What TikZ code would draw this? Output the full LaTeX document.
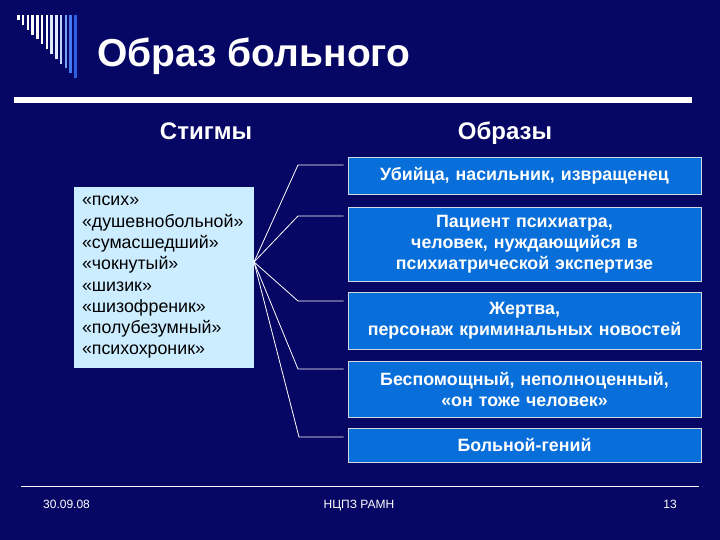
\documentclass[tikz,border=0pt]{standalone}
\usepackage{fontspec}
\setmainfont{Liberation Sans}
\definecolor{bgnavy}{RGB}{6,6,100}
\definecolor{boxblue}{RGB}{8,110,218}
\definecolor{lightbox}{RGB}{204,236,255}
\definecolor{boxedge}{RGB}{210,215,225}
\definecolor{stripeA}{RGB}{255,255,255}
\definecolor{stripeB}{RGB}{225,235,255}
\definecolor{stripeC}{RGB}{190,210,255}
\definecolor{stripeD}{RGB}{120,160,250}
\definecolor{stripeE}{RGB}{70,120,240}
\definecolor{stripeF}{RGB}{45,95,225}
\tikzset{
  imgbox/.style={draw=boxedge, line width=0.8pt, fill=boxblue, text=white,
    minimum width=353pt, text width=345pt, align=center, inner xsep=4pt,
    inner ysep=0pt, font=\fontsize{17.8}{21}\selectfont\bfseries},
  stigbox/.style={fill=lightbox, text=black, minimum width=180pt, minimum height=181pt,
    text width=164pt, align=left, inner xsep=8pt, inner ysep=0pt,
    font=\fontsize{17.8}{21.3}\selectfont},
  conn/.style={draw=white, line width=0.8pt},
  heading/.style={text=white, font=\fontsize{24}{28}\selectfont\bfseries, inner sep=0pt},
  foot/.style={text=white, font=\fontsize{12}{14}\selectfont, inner sep=0pt}
}
\begin{document}
\begin{tikzpicture}[x=1pt,y=-1pt]
\useasboundingbox (0,0) rectangle (720,540);
\fill[bgnavy] (0,0) rectangle (720,540);
% stripes decoration
\foreach \i/\c in {0/stripeA,1/stripeA,2/stripeA,3/stripeA,4/stripeA,5/stripeA,6/stripeA,7/stripeB,8/stripeB,9/stripeC,10/stripeD,11/stripeE,12/stripeF}{
  \fill[\c] ({17+\i*4.75},15) rectangle ({19.6+\i*4.75},{20+\i*4.85});
}
% title
\node[anchor=base west, text=white, inner sep=0pt, font=\fontsize{39}{44}\selectfont\bfseries] (title) at (97,67) {Образ больного};
\fill[white] (14,97) rectangle (692,103);
% headings
\node[heading, anchor=base] (h1) at (206,140) {Стигмы};
\node[heading, anchor=base] (h2) at (505,140) {Образы};
% left box
\node[stigbox] (stig) at (164,277.5) {«псих»\\«душевнобольной»\\«сумасшедший»\\«чокнутый»\\«шизик»\\«шизофреник»\\«полубезумный»\\«психохроник»};
% right boxes
\node[imgbox, minimum height=37pt] (b1) at (524.5,175.5) {Убийца, насильник, извращенец};
\node[imgbox, minimum height=74pt] (b2) at (524.5,244.5) {Пациент психиатра,\\человек, нуждающийся в\\психиатрической экспертизе};
\node[imgbox, minimum height=57pt] (b3) at (524.5,320.5) {Жертва,\\персонаж криминальных новостей};
\node[imgbox, minimum height=56pt] (b4) at (524.5,389) {Беспомощный, неполноценный,\\«он тоже человек»};
\node[imgbox, minimum height=34pt] (b5) at (524.5,445) {Больной-гений};
% connectors
\coordinate (j) at (254,262);
\coordinate (k1) at (298,165);
\coordinate (k2) at (298,216);
\coordinate (k3) at (298,301);
\coordinate (k4) at (298,369);
\coordinate (k5) at (299,437);
\draw[conn] (j) -- (k1) -- ([xshift=-4pt]b1.west |- k1);
\draw[conn] (j) -- (k2) -- ([xshift=-4pt]b2.west |- k2);
\draw[conn] (j) -- (k3) -- ([xshift=-4pt]b3.west |- k3);
\draw[conn] (j) -- (k4) -- ([xshift=-4pt]b4.west |- k4);
\draw[conn] (j) -- (k5) -- ([xshift=-4pt]b5.west |- k5);
% footer
\draw[white, line width=1pt] (21,486) -- (699,486);
\node[foot, anchor=base west] (date) at (43,508) {30.09.08};
\node[foot, anchor=base] (org) at (359,508) {НЦПЗ РАМН};
\node[foot, anchor=base east] (num) at (677,508) {13};
\end{tikzpicture}
\end{document}
